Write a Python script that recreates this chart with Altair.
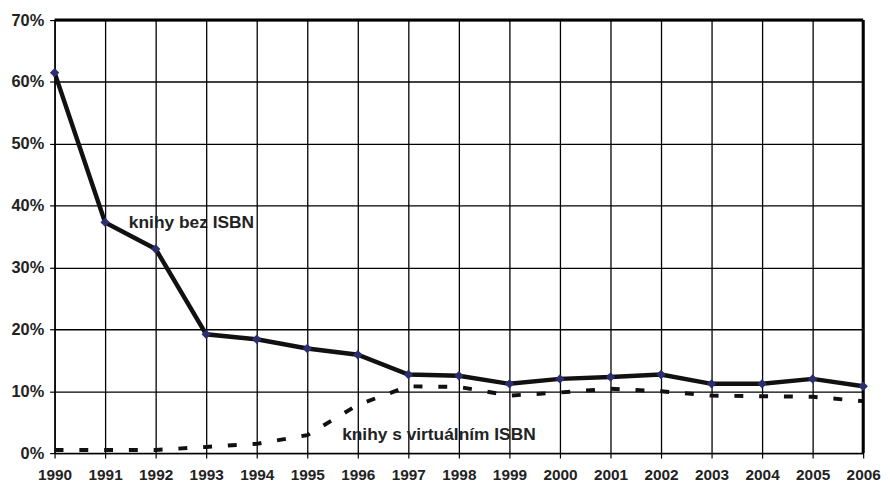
import altair as alt
import pandas as pd

years = list(range(1990, 2007))
bez_isbn = [61.5, 37.3, 33.0, 19.2, 18.4, 16.9, 15.9, 12.7, 12.5, 11.2, 12.0, 12.3, 12.7, 11.2, 11.2, 12.0, 10.8]
virt_isbn = [0.5, 0.5, 0.5, 1.0, 1.5, 2.9, 7.8, 10.8, 10.7, 9.3, 9.8, 10.4, 10.0, 9.3, 9.2, 9.1, 8.4]

labels = ["knihy bez ISBN", "knihy s virtuálním ISBN"]
label_x = [1991.47, 1995.69]
label_y = [37.2, 3.0]

df_bez = pd.DataFrame({"year": years, "value": bez_isbn})
df_virt = pd.DataFrame({"year": years, "value": virt_isbn})
df_lab = pd.DataFrame({"year": label_x, "value": label_y, "text": labels})

FONT = "Liberation Sans"

x_scale = alt.Scale(domain=[1990, 2006], nice=False, zero=False)
y_scale = alt.Scale(domain=[0, 70], nice=False)

x_enc = alt.X("year:Q", scale=x_scale, title=None,
              axis=alt.Axis(values=years, format="d", grid=True, gridColor="black",
                            gridWidth=1.3, gridOpacity=1, domainColor="black", domainWidth=1.5,
                            tickColor="black", tickSize=5, tickWidth=1.2,
                            labelFont=FONT, labelFontSize=15.5, labelFontWeight="bold",
                            labelColor="#222", labelPadding=10, labelFlush=False))
y_enc = alt.Y("value:Q", scale=y_scale, title=None,
              axis=alt.Axis(values=[0, 10, 20, 30, 40, 50, 60, 70],
                            labelExpr="datum.value + '%'", grid=True, gridColor="black",
                            gridWidth=1.3, gridOpacity=1, domainColor="black", domainWidth=1.5,
                            tickColor="black", tickSize=5, tickWidth=1.2,
                            labelFont=FONT, labelFontSize=16.5, labelFontWeight="bold",
                            labelColor="#222", labelPadding=6))

virt_line = alt.Chart(df_virt).mark_line(color="#111", strokeWidth=4, strokeDash=[9, 16]).encode(
    x=x_enc, y=y_enc)

bez_line = alt.Chart(df_bez).mark_line(color="#111", strokeWidth=4.5).encode(
    x=alt.X("year:Q", scale=x_scale), y=alt.Y("value:Q", scale=y_scale))

bez_pts = alt.Chart(df_bez).mark_point(shape="diamond", filled=True, color="#2b2f6e",
                                       size=90, opacity=1).encode(
    x=alt.X("year:Q", scale=x_scale), y=alt.Y("value:Q", scale=y_scale))

text = alt.Chart(df_lab).mark_text(align="left", baseline="middle", font=FONT,
                                   fontSize=17.5, fontWeight="bold", color="#222").encode(
    x=alt.X("year:Q", scale=x_scale), y=alt.Y("value:Q", scale=y_scale), text="text:N")

top_rule = alt.Chart(pd.DataFrame({"v": [70]})).mark_rule(color="black", strokeWidth=3).encode(
    y=alt.Y("v:Q", scale=y_scale))
right_rule = alt.Chart(pd.DataFrame({"v": [2006]})).mark_rule(color="black", strokeWidth=3).encode(
    x=alt.X("v:Q", scale=x_scale))

chart = alt.layer(virt_line, top_rule, right_rule, bez_line, bez_pts, text).properties(
    width=816, height=437,
    autosize=alt.AutoSizeParams(type="none"),
    padding={"left": 47, "top": 10, "right": 19, "bottom": 31},
    background="white",
).configure_view(stroke=None)

chart.save("out.html", embed_options={"renderer": "svg", "actions": False})
